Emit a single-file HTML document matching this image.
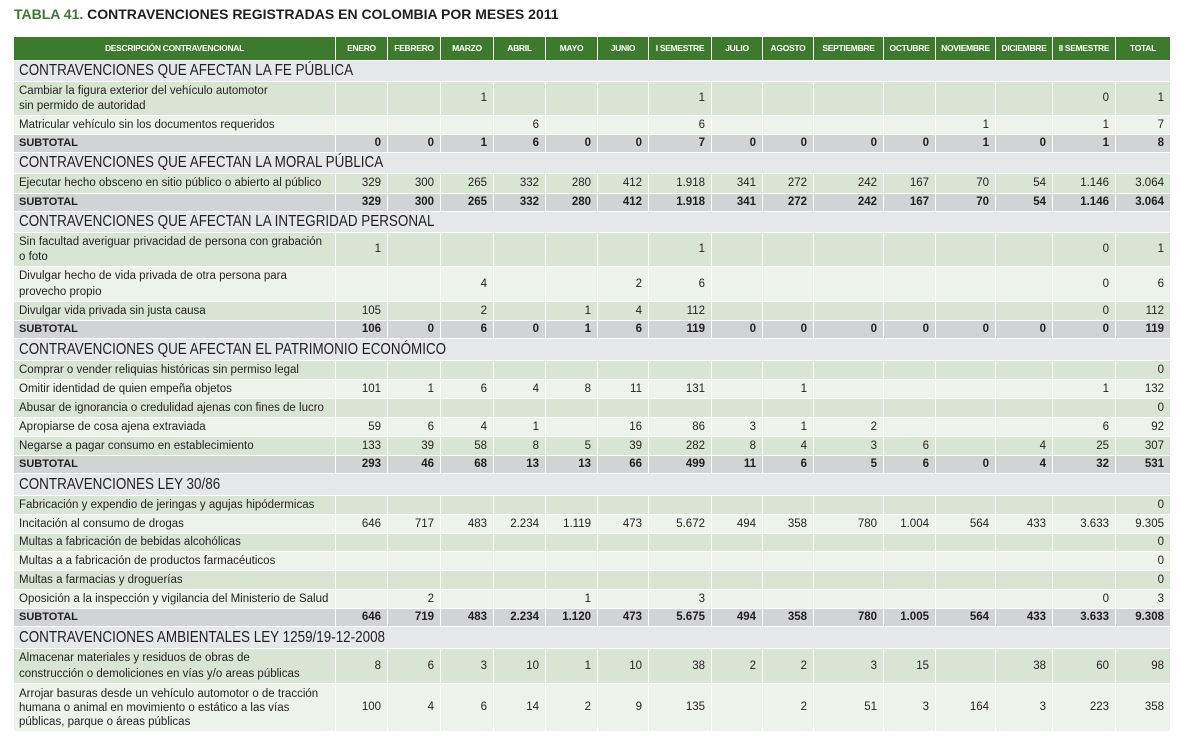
<!DOCTYPE html>
<html><head><meta charset="utf-8">
<style>
body{margin:0;width:1177px;height:745px;background:#fff;position:relative;overflow:hidden;font-family:"Liberation Sans",sans-serif;color:#231f20}
.c{position:absolute;box-sizing:border-box;overflow:hidden;font-size:11.5px;white-space:nowrap}
#title{position:absolute;left:14px;top:6px;font:bold 14px "Liberation Sans",sans-serif;color:#231f20}
#title span{color:#3d7a2e}
</style></head><body>
<div id="title"><span>TABLA 41.</span> CONTRAVENCIONES REGISTRADAS EN COLOMBIA POR MESES 2011</div>
<div id="tbl"></div>
<script>
const columns=["DESCRIPCIÓN CONTRAVENCIONAL","ENERO","FEBRERO","MARZO","ABRIL","MAYO","JUNIO","I SEMESTRE","JULIO","AGOSTO","SEPTIEMBRE","OCTUBRE","NOVIEMBRE","DICIEMBRE","II SEMESTRE","TOTAL"];
const edges=[14,335,387,440,493,545,597,648,711,762,813,883,935,995,1052,1115,1170];
const rows=[
["s","CONTRAVENCIONES QUE AFECTAN LA FE PÚBLICA",[],60,81],
["d","Cambiar la figura exterior del vehículo automotor<br>sin permido de autoridad",["","","1","","","","1","","","","","","","0","1"],81,115],
["d","Matricular vehículo sin los documentos requeridos",["","","","6","","","6","","","","","1","","1","7"],115,134],
["t","SUBTOTAL",["0","0","1","6","0","0","7","0","0","0","0","1","0","1","8"],134,152],
["s","CONTRAVENCIONES QUE AFECTAN LA MORAL PÚBLICA",[],152,173],
["d","Ejecutar hecho obsceno en sitio público o abierto al público",["329","300","265","332","280","412","1.918","341","272","242","167","70","54","1.146","3.064"],173,193],
["t","SUBTOTAL",["329","300","265","332","280","412","1.918","341","272","242","167","70","54","1.146","3.064"],193,211],
["s","CONTRAVENCIONES QUE AFECTAN LA INTEGRIDAD PERSONAL",[],211,232],
["d","Sin facultad averiguar privacidad de persona con grabación<br>o foto",["1","","","","","","1","","","","","","","0","1"],232,266],
["d","Divulgar hecho de vida privada de otra persona para<br>provecho propio",["","","4","","","2","6","","","","","","","0","6"],266,301],
["d","Divulgar vida privada sin justa causa",["105","","2","","1","4","112","","","","","","","0","112"],301,320],
["t","SUBTOTAL",["106","0","6","0","1","6","119","0","0","0","0","0","0","0","119"],320,338],
["s","CONTRAVENCIONES QUE AFECTAN EL PATRIMONIO ECONÓMICO",[],338,360],
["d","Comprar o vender reliquias históricas sin permiso legal",["","","","","","","","","","","","","","","0"],360,379],
["d","Omitir identidad de quien empeña objetos",["101","1","6","4","8","11","131","","1","","","","","1","132"],379,398],
["d","Abusar de ignorancia o credulidad ajenas con fines de lucro",["","","","","","","","","","","","","","","0"],398,417],
["d","Apropiarse de cosa ajena extraviada",["59","6","4","1","","16","86","3","1","2","","","","6","92"],417,436],
["d","Negarse a pagar consumo en establecimiento",["133","39","58","8","5","39","282","8","4","3","6","","4","25","307"],436,455],
["t","SUBTOTAL",["293","46","68","13","13","66","499","11","6","5","6","0","4","32","531"],455,473],
["s","CONTRAVENCIONES LEY 30/86",[],473,495],
["d","Fabricación y expendio de jeringas y agujas hipódermicas",["","","","","","","","","","","","","","","0"],495,514],
["d","Incitación al consumo de drogas",["646","717","483","2.234","1.119","473","5.672","494","358","780","1.004","564","433","3.633","9.305"],514,533],
["d","Multas a fabricación de bebidas alcohólicas",["","","","","","","","","","","","","","","0"],533,551],
["d","Multas a a fabricación de productos farmacéuticos",["","","","","","","","","","","","","","","0"],551,570],
["d","Multas a farmacias y droguerías",["","","","","","","","","","","","","","","0"],570,589],
["d","Oposición a la inspección y vigilancia del Ministerio de Salud",["","2","","","1","","3","","","","","","","0","3"],589,608],
["t","SUBTOTAL",["646","719","483","2.234","1.120","473","5.675","494","358","780","1.005","564","433","3.633","9.308"],608,626],
["s","CONTRAVENCIONES AMBIENTALES LEY 1259/19-12-2008",[],626,648],
["d","Almacenar materiales y residuos de obras de<br>construcción o demoliciones en vías y/o areas públicas",["8","6","3","10","1","10","38","2","2","3","15","","38","60","98"],648,683],
["d","Arrojar basuras desde un vehículo automotor o de tracción<br>humana o animal en movimiento o estático a las vías<br>públicas, parque o áreas públicas",["100","4","6","14","2","9","135","","2","51","3","164","3","223","358"],683,731]
];
const T=document.getElementById('tbl');
function cell(x,y,w,h,bg,html,css){const d=document.createElement('div');d.className='c';d.style.cssText=`left:${x}px;top:${y}px;width:${w}px;height:${h}px;background:${bg};${css}`;d.innerHTML=html;T.appendChild(d);return d;}
columns.forEach((c,i)=>{const x=edges[i]+(i?1:0),w=edges[i+1]-x;
const d=cell(x,37,w,23,'#3d7a2e',c,`color:#fff;font:bold 8.5px "Liberation Sans",sans-serif;text-align:center;line-height:23px;letter-spacing:-0.3px`);

});
let alt=0;
rows.forEach(r=>{const [t,label,vals,y0,y1]=r;const y=y0+1,h=y1-y0-1;
if(t==='s'){alt=0;const d=cell(14,y,1156,h,'#e6e7e8','',`font:16px "Liberation Sans",sans-serif;padding-left:5px;line-height:${h}px;color:#231f20`);
d.innerHTML='<span style="display:inline-block;transform:scaleX(0.84);transform-origin:0 50%">'+label+'</span>';

return;}
const bg=t==='t'?'#d1d3d4':(alt++%2===0?'#d9e5d3':'#edf2ea');
const fw=t==='t'?'bold':'normal';
const lines=label.split('<br>').length;const lh=lines>1?Math.floor(h/lines)-1:h;
const d=cell(14,y,321,h,bg,label,`font-weight:${fw};padding:${lines>1?Math.max(1,(h-lh*lines)/2):0}px 0 0 5px;line-height:${lh}px;font-size:${t==='t'?11:11.5}px;white-space:normal`);


for(let i=0;i<15;i++){const x=edges[i+1]+1,w=edges[i+2]-x;
const v=cell(x,y,w,h,bg,vals[i],`text-align:right;padding-right:6px;line-height:${h}px;font-weight:${fw}`);

}
});
</script>
</body></html>
